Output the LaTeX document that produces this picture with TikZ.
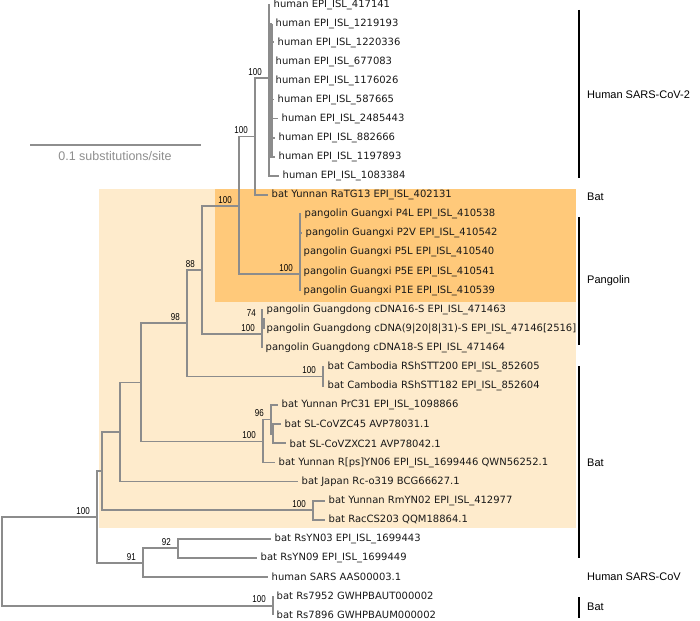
\documentclass[tikz,border=0pt]{standalone}
\usepackage{fontspec}
\usepackage{tikz}
\usetikzlibrary{positioning}
\newfontfamily\leaffont{DejaVu Sans}
\newfontfamily\cladefont{Liberation Sans}
\newfontfamily\bootfont[FakeStretch=0.8]{Liberation Sans}
\definecolor{branchgray}{HTML}{8C8C8C}
\definecolor{scalegray}{HTML}{8E8E8E}
\definecolor{shadelight}{HTML}{FEEBCC}
\definecolor{shadedark}{HTML}{FFC97A}

\begin{document}
\begin{tikzpicture}[x=1pt, y=-1pt,
  leaf/.style={anchor=west, inner xsep=3.5pt, inner ysep=0pt, text=black!90, font=\leaffont\fontsize{10}{10}\selectfont},
  boot/.style={anchor=south east, inner sep=0pt, xshift=-7pt, yshift=2.5pt, font=\bootfont\fontsize{10}{10}\selectfont},
  clade/.style={anchor=west, inner sep=0pt, font=\cladefont\fontsize{11}{11}\selectfont},
  br/.style={draw=branchgray, line width=1.8pt},
  cladebar/.style={draw=black, line width=1.4pt}]
  \useasboundingbox (0,0) rectangle (700,620);

  % shaded clades
  \fill[shadelight] (99,189) rectangle (576,528);
  \fill[shadedark] (215,189) rectangle (576,302);

  % scale bar
  \draw[scalegray, line width=1.8pt] (30,145) -- (201,145);
  \node (scale) at (115,156) [text=scalegray, font=\cladefont\fontsize{12.5}{13}\selectfont] {0.1 substitutions/site};

  % leaves
  \node[leaf] (h1)  at (270,5.0)   {human EPI\_ISL\_417141};
  \node[leaf] (h2)  at (272,23.6)  {human EPI\_ISL\_1219193};
  \node[leaf] (h3)  at (274,42.4)  {human EPI\_ISL\_1220336};
  \node[leaf] (h4)  at (272,61.4)  {human EPI\_ISL\_677083};
  \node[leaf] (h5)  at (272,80.4)  {human EPI\_ISL\_1176026};
  \node[leaf] (h6)  at (274,99.5)  {human EPI\_ISL\_587665};
  \node[leaf] (h7)  at (278,118.6) {human EPI\_ISL\_2485443};
  \node[leaf] (h8)  at (275,137.7) {human EPI\_ISL\_882666};
  \node[leaf] (h9)  at (275,156.8) {human EPI\_ISL\_1197893};
  \node[leaf] (h10) at (279,175.9) {human EPI\_ISL\_1083384};
  \node[leaf] (rat) at (268,195.0) {bat Yunnan RaTG13 EPI\_ISL\_402131};
  \node[leaf] (gx1) at (301,214.1) {pangolin Guangxi P4L EPI\_ISL\_410538};
  \node[leaf] (gx2) at (302,233.2) {pangolin Guangxi P2V EPI\_ISL\_410542};
  \node[leaf] (gx3) at (300,252.3) {pangolin Guangxi P5L EPI\_ISL\_410540};
  \node[leaf] (gx4) at (300,271.4) {pangolin Guangxi P5E EPI\_ISL\_410541};
  \node[leaf] (gx5) at (300,290.5) {pangolin Guangxi P1E EPI\_ISL\_410539};
  \node[leaf] (gd1) at (263,309.6) {pangolin Guangdong cDNA16-S EPI\_ISL\_471463};
  \node[leaf] (gd2) at (263,328.7) {pangolin Guangdong cDNA(9|20|8|31)-S EPI\_ISL\_47146[2516]};
  \node[leaf] (gd3) at (262,347.8) {pangolin Guangdong cDNA18-S EPI\_ISL\_471464};
  \node[leaf] (cb1) at (324,366.9) {bat Cambodia RShSTT200 EPI\_ISL\_852605};
  \node[leaf] (cb2) at (324,386.0) {bat Cambodia RShSTT182 EPI\_ISL\_852604};
  \node[leaf] (prc) at (278,405.1) {bat Yunnan PrC31 EPI\_ISL\_1098866};
  \node[leaf] (zc45) at (281,424.2) {bat SL-CoVZC45 AVP78031.1};
  \node[leaf] (zxc21) at (286,443.3) {bat SL-CoVZXC21 AVP78042.1};
  \node[leaf] (yn06) at (275,462.4) {bat Yunnan R[ps]YN06 EPI\_ISL\_1699446 QWN56252.1};
  \node[leaf] (jap) at (298,481.5) {bat Japan Rc-o319 BCG66627.1};
  \node[leaf] (rm02) at (325,500.6) {bat Yunnan RmYN02 EPI\_ISL\_412977};
  \node[leaf] (rac) at (325,519.7) {bat RacCS203 QQM18864.1};
  \node[leaf] (rs03) at (271,538.8) {bat RsYN03 EPI\_ISL\_1699443};
  \node[leaf] (rs09) at (257,557.9) {bat RsYN09 EPI\_ISL\_1699449};
  \node[leaf] (sars) at (268,577.0) {human SARS AAS00003.1};
  \node[leaf] (rs52) at (273,596.1) {bat Rs7952 GWHPBAUT000002};
  \node[leaf] (rs96) at (273,615.2) {bat Rs7896 GWHPBAUM000002};

  % internal nodes
  \coordinate (hum)   at (269,78);
  \coordinate (B)     at (255,136.5);
  \coordinate (gx)    at (300,274);
  \coordinate (A)     at (239,206);
  \coordinate (gdsub) at (263,319);
  \coordinate (gd)    at (262,334);
  \coordinate (C)     at (202,270);
  \coordinate (cb)    at (323,376.5);
  \coordinate (D)     at (187,323);
  \coordinate (H)     at (273,433.75);
  \coordinate (G)     at (271,419.5);
  \coordinate (F)     at (263,441.5);
  \coordinate (E)     at (141,382.5);
  \coordinate (I)     at (120,432);
  \coordinate (rm)    at (313,510.15);
  \coordinate (J)     at (102,471);
  \coordinate (M)     at (178,548.35);
  \coordinate (L)     at (143,563);
  \coordinate (K)     at (97,517);
  \coordinate (rs)    at (273,605.65);
  \coordinate (root)  at (2,561);

  % branches
  \foreach \i in {1,...,10}
    \draw[br] (hum) |- (h\i.west);
  \draw[br, line width=3pt] (271.5,23.6) -- (271.5,156.8);
  \draw[br] (B) |- (hum);
  \draw[br] (B) |- (rat.west);
  \foreach \i in {1,...,5}
    \draw[br] (gx) |- (gx\i.west);
  \draw[br] (A) |- (B);
  \draw[br] (A) |- (gx);
  \foreach \i in {1,2,3}
    \draw[br] (gd) |- (gd\i.west);
  \draw[br, line width=2.6pt] (263.3,318) -- (263.3,328.7);
  \draw[br] (C) |- (A);
  \draw[br] (C) |- (gd);
  \draw[br] (cb) |- (cb1.west);
  \draw[br] (cb) |- (cb2.west);
  \draw[br] (D) |- (C);
  \draw[br] (D) |- (cb);
  \draw[br] (H) |- (zc45.west);
  \draw[br] (H) |- (zxc21.west);
  \draw[br] (G) |- (prc.west);
  \draw[br] (G) |- (H);
  \draw[br] (F) |- (G);
  \draw[br] (F) |- (yn06.west);
  \draw[br] (E) |- (D);
  \draw[br] (E) |- (F);
  \draw[br] (I) |- (E);
  \draw[br] (I) |- (jap.west);
  \draw[br] (rm) |- (rm02.west);
  \draw[br] (rm) |- (rac.west);
  \draw[br] (J) |- (I);
  \draw[br] (J) |- (rm);
  \draw[br] (M) |- (rs03.west);
  \draw[br] (M) |- (rs09.west);
  \draw[br] (L) |- (M);
  \draw[br] (L) |- (sars.west);
  \draw[br] (K) |- (J);
  \draw[br] (K) |- (L);
  \draw[br] (rs) |- (rs52.west);
  \draw[br] (rs) |- (rs96.west);
  \draw[br] (root) |- (K);
  \draw[br] (root) |- (rs);

  % support values
  \node[boot] at (hum)   {100};
  \node[boot] at (B)     {100};
  \node[boot] at (A)     {100};
  \node[boot] at (gx)    {100};
  \node[boot] at (gdsub) {74};
  \node[boot] at (gd)    {100};
  \node[boot] at (C)     {88};
  \node[boot] at (D)     {98};
  \node[boot] at (cb)    {100};
  \node[boot] at (G)     {96};
  \node[boot] at (F)     {100};
  \node[boot] at (rm)    {100};
  \node[boot] at (K)     {100};
  \node[boot] at (L)     {91};
  \node[boot] at (M)     {92};
  \node[boot] at (rs)    {100};

  % host groups
  \draw[cladebar] (579,10) -- (579,178);
  \draw[cladebar] (579,217) -- (579,345);
  \draw[cladebar] (579,366) -- (579,558);
  \draw[cladebar] (579,597) -- (579,618);
  \node[clade] (g1) at (587,95)  {Human SARS-CoV-2};
  \node[clade] (g2) at (587,197) {Bat};
  \node[clade] (g3) at (587,281) {Pangolin};
  \node[clade] (g4) at (587,463) {Bat};
  \node[clade] (g5) at (587,577) {Human SARS-CoV};
  \node[clade] (g6) at (587,607) {Bat};

\end{tikzpicture}
\end{document}
